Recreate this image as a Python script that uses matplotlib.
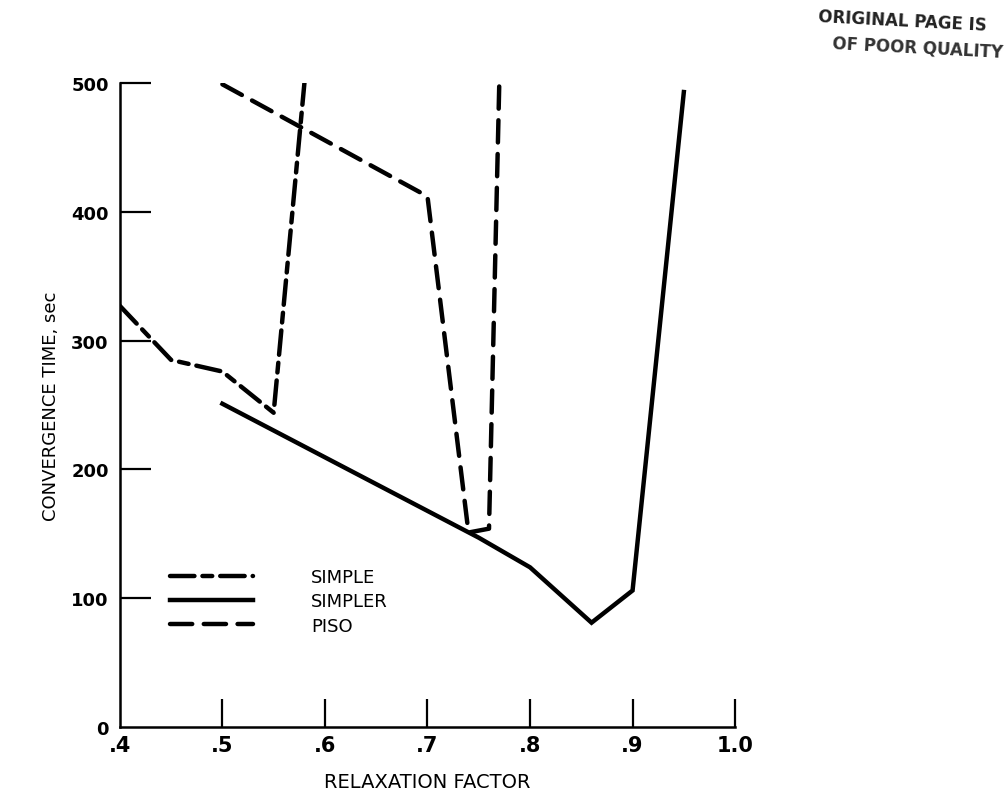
import matplotlib
matplotlib.use('Agg')
import matplotlib.pyplot as plt

plt.rcParams['font.family'] = ['DejaVu Sans']

# values
simple_x = [0.40, 0.45, 0.50, 0.55, 0.58]
simple_y = [327, 285, 276, 244, 500]

simpler_x = [0.50, 0.75, 0.80, 0.86, 0.90, 0.95]
simpler_y = [251, 147, 124, 81, 106, 493]

piso_x = [0.50, 0.70, 0.74, 0.76, 0.77]
piso_y = [499, 412, 151, 154, 499]

xticks = [0.4, 0.5, 0.6, 0.7, 0.8, 0.9, 1.0]
xticklabels = ['.4', '.5', '.6', '.7', '.8', '.9', '1.0']
yticks = [0, 100, 200, 300, 400, 500]

fig = plt.figure(figsize=(10.07, 8.04), dpi=100)
ax = fig.add_axes([0.119, 0.0945, 0.611, 0.801])

lw = 3.2
l1, = ax.plot(simple_x, simple_y, color='black', lw=lw, dashes=(5.5, 1.8, 2.2, 1.8),
              dash_capstyle='round', label='SIMPLE')
l2, = ax.plot(simpler_x, simpler_y, color='black', lw=lw, solid_joinstyle='miter',
              label='SIMPLER')
l3, = ax.plot(piso_x, piso_y, color='black', lw=lw, dashes=(5.0, 2.6),
              dash_capstyle='round', label='PISO')

ax.set_xlim(0.4, 1.0)
ax.set_ylim(0, 500)
ax.set_xticks(xticks)
ax.set_xticklabels(xticklabels)
ax.set_yticks(yticks)
for s in ['top', 'right']:
    ax.spines[s].set_visible(False)
for s in ['left', 'bottom']:
    ax.spines[s].set_linewidth(1.8)
ax.tick_params(axis='y', direction='in', length=22, width=1.6, pad=8, labelsize=13)
ax.tick_params(axis='x', direction='in', length=20, width=1.6, pad=6, labelsize=15)
ax.xaxis.get_major_ticks()[0].tick1line.set_visible(False)
ax.yaxis.get_major_ticks()[0].tick1line.set_visible(False)
for t in ax.get_xticklabels() + ax.get_yticklabels():
    t.set_fontweight('bold')

ax.set_xlabel('RELAXATION FACTOR', fontsize=14, labelpad=12)
ax.set_ylabel('CONVERGENCE TIME, sec', fontsize=13, labelpad=8)

ax.legend(handles=[l1, l2, l3], loc='upper left', bbox_to_anchor=(0.055, 0.272),
          frameon=False, handlelength=4.6, fontsize=13, labelspacing=0.35,
          handletextpad=3.2)

fig.text(0.812, 0.962, 'ORIGINAL PAGE IS', fontsize=12, fontweight='bold',
         color='#222222', rotation=-3)
fig.text(0.826, 0.928, 'OF POOR QUALITY', fontsize=12, fontweight='bold',
         color='#333333', rotation=-3)

fig.savefig('out.png', dpi=100)
